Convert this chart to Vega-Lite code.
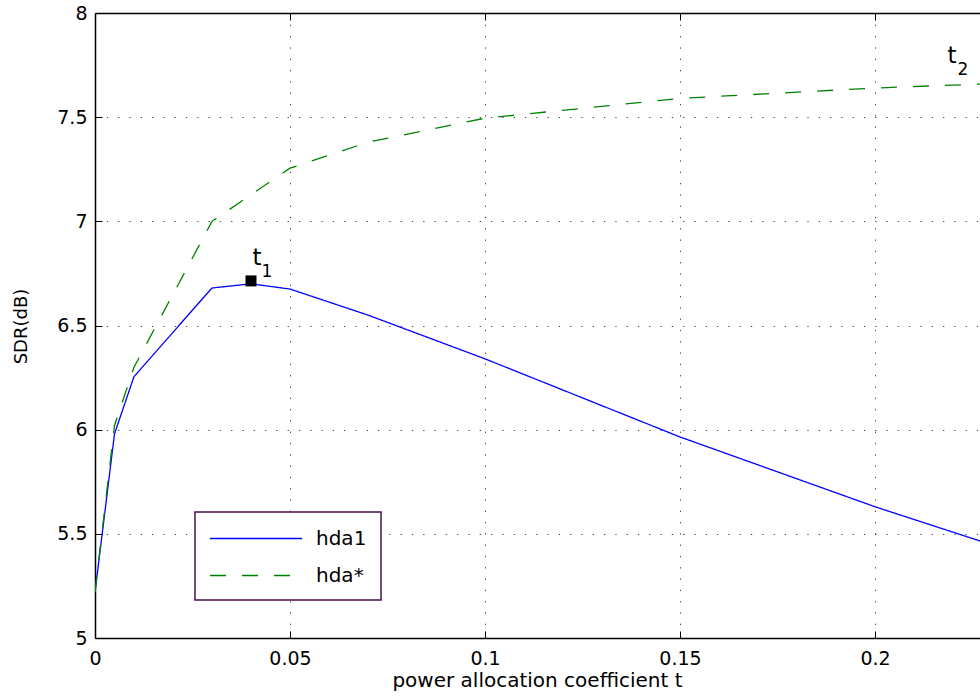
{
  "$schema": "https://vega.github.io/schema/vega-lite/v6.json",
  "width": 885,
  "height": 625,
  "autosize": {"type": "none"},
  "padding": {"left": 95, "top": 13, "right": 0, "bottom": 62},
  "background": "white",
  "config": {
    "view": {"stroke": null},
    "font": "DejaVu Sans",
    "axis": {
      "domainColor": "black",
      "domainWidth": 1.5,
      "tickColor": "black",
      "tickSize": -7,
      "tickWidth": 1,
      "labelFont": "DejaVu Sans",
      "labelFontSize": 19,
      "labelColor": "black",
      "labelFlush": false,
      "labelOverlap": false,
      "titleFont": "DejaVu Sans",
      "titleFontSize": 19,
      "titleFontWeight": "normal",
      "titleColor": "black",
      "gridColor": "#444444",
      "gridDash": [1.3, 10],
      "gridWidth": 1,
      "gridOpacity": 1
    },
    "legend": {
      "orient": "none",
      "legendX": 100,
      "legendY": 499,
      "strokeColor": "#4b0f4b",
      "strokeWidth": 1.5,
      "fillColor": "white",
      "padding": 14,
      "symbolType": "M-1,0H7",
      "symbolSize": 529,
      "symbolStrokeWidth": 1.3,
      "labelOffset": 82,
      "labelFont": "DejaVu Sans",
      "labelFontSize": 20,
      "labelColor": "black",
      "rowPadding": 14
    }
  },
  "datasets": {
    "curves": [
      {"t": 0, "sdr": 5.22, "series": "hda1"},
      {"t": 0.005, "sdr": 5.98, "series": "hda1"},
      {"t": 0.01, "sdr": 6.255, "series": "hda1"},
      {"t": 0.03, "sdr": 6.68, "series": "hda1"},
      {"t": 0.04, "sdr": 6.70, "series": "hda1"},
      {"t": 0.05, "sdr": 6.675, "series": "hda1"},
      {"t": 0.07, "sdr": 6.55, "series": "hda1"},
      {"t": 0.1, "sdr": 6.34, "series": "hda1"},
      {"t": 0.15, "sdr": 5.965, "series": "hda1"},
      {"t": 0.2, "sdr": 5.63, "series": "hda1"},
      {"t": 0.25, "sdr": 5.325, "series": "hda1"},
      {"t": 0, "sdr": 5.22, "series": "hda*"},
      {"t": 0.005, "sdr": 6.02, "series": "hda*"},
      {"t": 0.01, "sdr": 6.30, "series": "hda*"},
      {"t": 0.03, "sdr": 7.0, "series": "hda*"},
      {"t": 0.05, "sdr": 7.255, "series": "hda*"},
      {"t": 0.07, "sdr": 7.38, "series": "hda*"},
      {"t": 0.1, "sdr": 7.495, "series": "hda*"},
      {"t": 0.15, "sdr": 7.59, "series": "hda*"},
      {"t": 0.2, "sdr": 7.64, "series": "hda*"},
      {"t": 0.25, "sdr": 7.675, "series": "hda*"}
    ],
    "points": [{"t": 0.04, "sdr": 6.714}],
    "mainLabels": [
      {"t": 0.04154, "sdr": 6.79, "text": "t"},
      {"t": 0.21974, "sdr": 7.76, "text": "t"}
    ],
    "subLabels": [
      {"t": 0.0441, "sdr": 6.733, "text": "1"},
      {"t": 0.22256, "sdr": 7.7024, "text": "2"}
    ]
  },
  "resolve": {"axis": {"x": "independent"}},
  "layer": [
    {
      "data": {"name": "curves"},
      "mark": {"type": "line", "strokeWidth": 1.3, "clip": true},
      "encoding": {
        "x": {
          "field": "t", "type": "quantitative",
          "scale": {"domain": [0, 0.22692], "nice": false, "zero": false},
          "axis": {
            "orient": "bottom",
            "values": [0, 0.05, 0.1, 0.15, 0.2],
            "format": "~g",
            "labelPadding": 18,
            "title": "power allocation coefficient t",
            "titleFontSize": 20,
            "titleX": 442,
            "titleY": 42,
            "titleAlign": "center",
            "titleBaseline": "middle",
            "grid": true
          }
        },
        "y": {
          "field": "sdr", "type": "quantitative",
          "scale": {"domain": [5, 8], "nice": false, "zero": false},
          "axis": {
            "values": [5, 5.5, 6, 6.5, 7, 7.5, 8],
            "format": "~g",
            "labelPadding": 15,
            "title": "SDR(dB)",
            "titleFontSize": 18,
            "titleX": -74,
            "titleY": 313,
            "titleAngle": -90,
            "titleAlign": "center",
            "titleBaseline": "middle",
            "grid": true
          }
        },
        "color": {
          "field": "series", "type": "nominal",
          "scale": {"domain": ["hda1", "hda*"], "range": ["#0000ff", "#008000"]},
          "legend": {"title": null}
        },
        "strokeDash": {
          "field": "series", "type": "nominal",
          "scale": {"domain": ["hda1", "hda*"], "range": [[1, 0], [16, 16]]},
          "legend": {"title": null}
        },
        "order": {"field": "t", "type": "quantitative"}
      }
    },
    {
      "data": {"name": "points"},
      "mark": {"type": "square", "size": 121, "color": "black", "opacity": 1, "filled": true},
      "encoding": {
        "x": {
          "field": "t", "type": "quantitative",
          "axis": {
            "orient": "top",
            "values": [0, 0.05, 0.1, 0.15, 0.2],
            "labels": false,
            "title": null,
            "grid": false
          }
        },
        "y": {"field": "sdr", "type": "quantitative"}
      }
    },
    {
      "data": {"name": "mainLabels"},
      "mark": {"type": "text", "fontSize": 23, "font": "DejaVu Sans", "align": "center", "baseline": "alphabetic", "color": "black"},
      "encoding": {
        "x": {"field": "t", "type": "quantitative", "axis": null},
        "y": {"field": "sdr", "type": "quantitative"},
        "text": {"field": "text"}
      }
    },
    {
      "data": {"name": "subLabels"},
      "mark": {"type": "text", "fontSize": 17, "font": "DejaVu Sans", "align": "center", "baseline": "alphabetic", "color": "black"},
      "encoding": {
        "x": {"field": "t", "type": "quantitative", "axis": null},
        "y": {"field": "sdr", "type": "quantitative"},
        "text": {"field": "text"}
      }
    }
  ]
}
